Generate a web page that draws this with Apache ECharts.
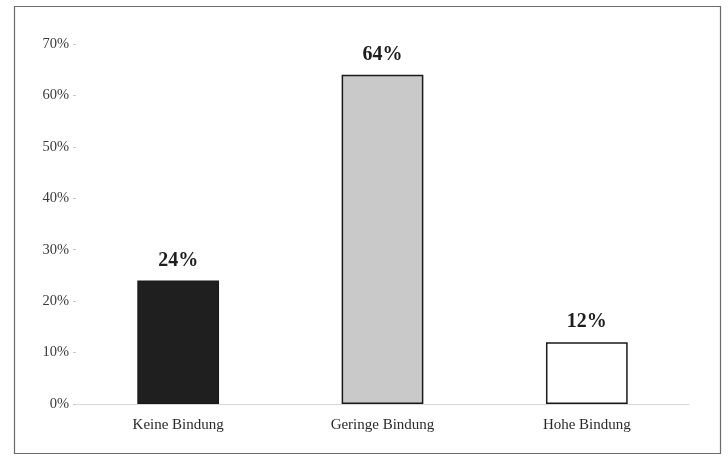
<!DOCTYPE html>
<html>
<head>
<meta charset="utf-8">
<script src="https://cdn.jsdelivr.net/npm/echarts@6/dist/echarts.min.js"></script>
<style>
  html, body { margin: 0; padding: 0; background: #fff; }
  #chart { width: 728px; height: 462px; }
</style>
</head>
<body>
<div id="chart"></div>
<script>
// Share of respondents by degree of attachment (Bindung)
const categories = ['Keine Bindung', 'Geringe Bindung', 'Hohe Bindung'];
const shares = [24, 64, 12];
const barFills = ['#1f1f1f', '#c9c9c9', '#ffffff'];

const serif = '"Liberation Serif", "DejaVu Serif", serif';

const chart = echarts.init(document.getElementById('chart'), null, { renderer: 'canvas' });

chart.setOption({
  animation: false,
  backgroundColor: '#ffffff',
  graphic: [{
    type: 'rect',
    shape: { x: 14.5, y: 6.5, width: 706, height: 447 },
    style: { fill: 'none', stroke: '#6a6a6a', lineWidth: 1.2 },
    silent: true
  }],
  grid: { left: 76, right: 39, top: 44, bottom: 58 },
  xAxis: {
    type: 'category',
    data: categories,
    axisLine: { show: true, lineStyle: { color: '#d6d6d6', width: 1 } },
    axisTick: { show: false },
    axisLabel: { color: '#2a2a2a', fontFamily: serif, fontSize: 15, margin: 14 }
  },
  yAxis: {
    type: 'value',
    min: 0,
    max: 70,
    interval: 10,
    axisLine: { show: false },
    axisTick: { show: true, length: 3, lineStyle: { color: '#c8c8c8' } },
    splitLine: { show: false },
    axisLabel: {
      color: '#3a3a3a',
      fontFamily: serif,
      fontSize: 14.5,
      margin: 7,
      formatter: v => v + '%'
    }
  },
  series: [{
    type: 'bar',
    barWidth: '40%',
    data: shares.map((v, i) => ({
      value: v,
      itemStyle: { color: barFills[i], borderColor: '#1a1a1a', borderWidth: 1.5 }
    })),
    label: {
      show: true,
      position: 'top',
      distance: 10,
      color: '#1e1e1e',
      fontFamily: serif,
      fontSize: 20,
      fontWeight: 'bold',
      formatter: p => p.value + '%'
    }
  }]
});
</script>
</body>
</html>
